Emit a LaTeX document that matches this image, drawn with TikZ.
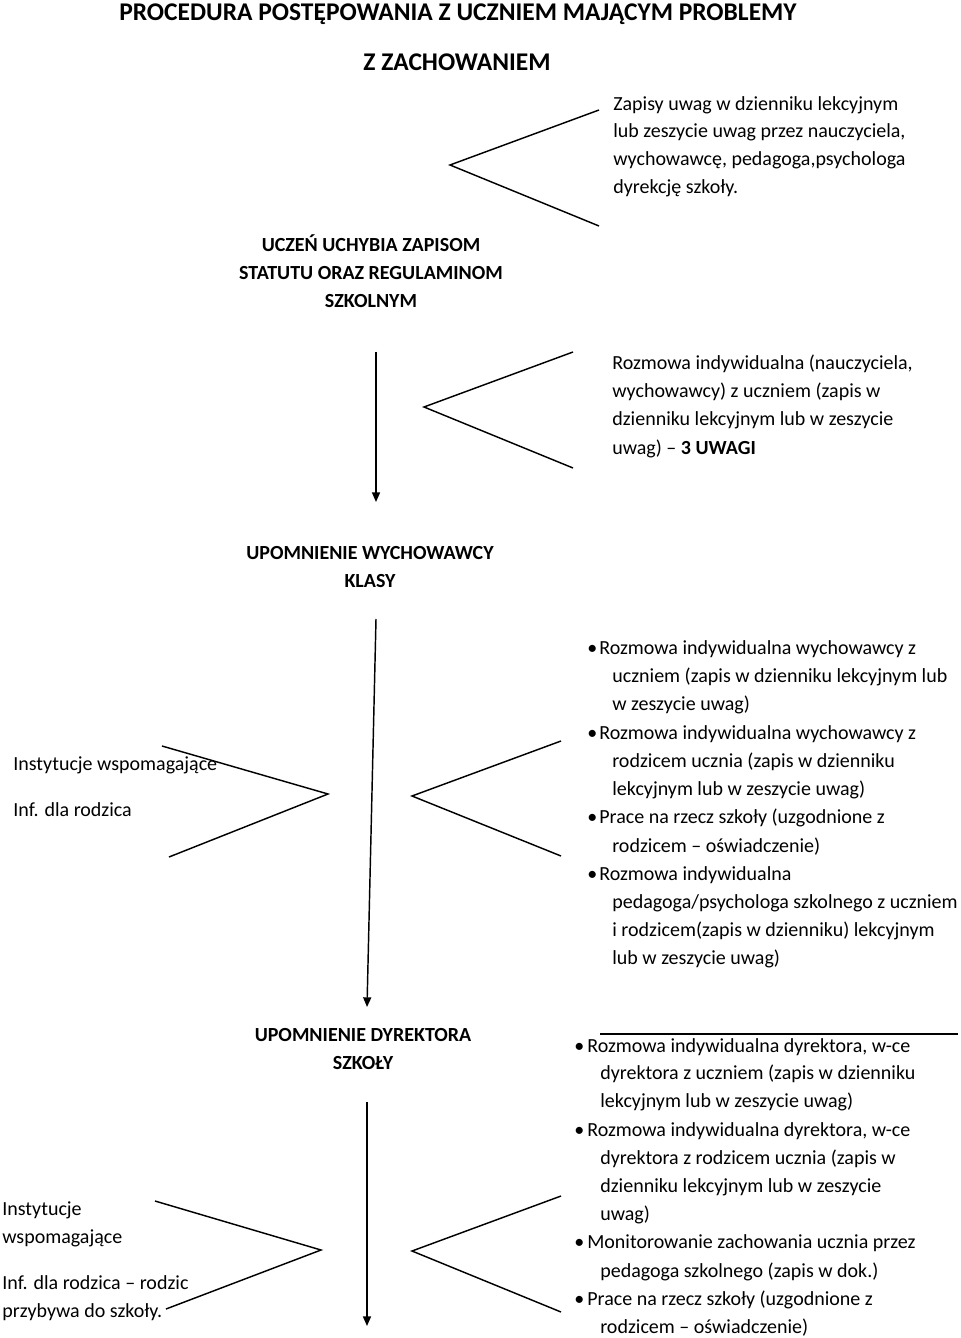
\documentclass[tikz,border=0pt]{standalone}
\usepackage{fontspec}
\setmainfont{Carlito}
\usetikzlibrary{arrows.meta}
\tikzset{
  txt/.style={anchor=west, inner sep=0pt, text height=0.75em, text depth=0.25em, yshift=-1.8pt, font=\fontsize{12.4}{14}\selectfont},
  ctr/.style={anchor=center, inner sep=0pt, text height=0.75em, text depth=0.25em, yshift=-1.6pt, font=\fontsize{12.4}{14}\selectfont},
  ctrb/.style={ctr, font=\fontsize{12.4}{14}\selectfont\bfseries},
  ttl/.style={ctr, font=\fontsize{15.8}{18}\selectfont\bfseries},
  ln/.style={line width=0.9pt, line join=miter},
  arr/.style={ln, -{Triangle[width=5pt,length=6pt]}}
}
\begin{document}
\begin{tikzpicture}[x=0.62pt, y=-0.62pt]
\useasboundingbox (0,0) rectangle (960,1338);
% titles
\node[ttl] (t1) at (458,14) {PROCEDURA POSTĘPOWANIA Z UCZNIEM MAJĄCYM PROBLEMY};
\node[ttl] (t2) at (457,64) {Z ZACHOWANIEM};
% top right block
\node[txt] (z1) at (613,104) {Zapisy uwag w dzienniku lekcyjnym};
\node[txt] (z2) at (613,131) {lub zeszycie uwag przez nauczyciela,};
\node[txt] (z3) at (613,159) {wychowawcę, pedagoga,psychologa};
\node[txt] (z4) at (613,187) {dyrekcję szkoły.};
\coordinate (c1a) at (599,110);
\coordinate (c1t) at (450,165);
\coordinate (c1b) at (599,226);
\draw[ln] (c1a) -- (c1t) -- (c1b);
% start
\node[ctrb] (u1) at (371,245) {UCZEŃ UCHYBIA ZAPISOM};
\node[ctrb] (u2) at (371,273) {STATUTU ORAZ REGULAMINOM};
\node[ctrb] (u3) at (371,301) {SZKOLNYM};
% block 2
\node[txt] (r1) at (612,363) {Rozmowa indywidualna (nauczyciela,};
\node[txt] (r2) at (612,391) {wychowawcy) z uczniem (zapis w};
\node[txt] (r3) at (612,419) {dzienniku lekcyjnym lub w zeszycie};
\node[txt] (r4) at (612,448) {uwag) – \textbf{3 UWAGI}};
\coordinate (c2a) at (573,352);
\coordinate (c2t) at (424,407);
\coordinate (c2b) at (573,468);
\draw[ln] (c2a) -- (c2t) -- (c2b);
\coordinate (a1s) at (376,352);
\coordinate (a1e) at (376,502);
\draw[arr] (a1s) -- (a1e);
% upomnienie wychowawcy
\node[ctrb] (w1) at (370,553) {UPOMNIENIE WYCHOWAWCY};
\node[ctrb] (w2) at (370,581) {KLASY};
\coordinate (a2s) at (376,619);
\coordinate (a2e) at (367,1007);
\draw[arr] (a2s) -- (a2e);
% left middle
\node[txt] (l1) at (13,764) {Instytucje wspomagające};
\node[txt] (l2) at (13,810) {Inf. dla rodzica};
\coordinate (c3a) at (162,746);
\coordinate (c3t) at (328,794);
\coordinate (c3b) at (169,857);
\draw[ln] (c3a) -- (c3t) -- (c3b);
% right middle chevron
\coordinate (c4a) at (561,741);
\coordinate (c4t) at (412,796);
\coordinate (c4b) at (561,856);
\draw[ln] (c4a) -- (c4t) -- (c4b);
% middle list
\node[txt] (m1b) at (587,648) {•};
\node[txt] (m1) at (599,648) {Rozmowa indywidualna wychowawcy z};
\node[txt] (m1x) at (612,676) {uczniem (zapis w dzienniku lekcyjnym lub};
\node[txt] (m1y) at (612,704) {w zeszycie uwag)};
\node[txt] (m2b) at (587,733) {•};
\node[txt] (m2) at (599,733) {Rozmowa indywidualna wychowawcy z};
\node[txt] (m2x) at (612,761) {rodzicem ucznia (zapis w dzienniku};
\node[txt] (m2y) at (612,789) {lekcyjnym lub w zeszycie uwag)};
\node[txt] (m3b) at (587,817) {•};
\node[txt] (m3) at (599,817) {Prace na rzecz szkoły (uzgodnione z};
\node[txt] (m3x) at (612,846) {rodzicem – oświadczenie)};
\node[txt] (m4b) at (587,874) {•};
\node[txt] (m4) at (599,874) {Rozmowa indywidualna};
\node[txt] (m4x) at (612,902) {pedagoga/psychologa szkolnego z uczniem};
\node[txt] (m4y) at (612,930) {i rodzicem(zapis w dzienniku) lekcyjnym};
\node[txt] (m4z) at (612,958) {lub w zeszycie uwag)};
% upomnienie dyrektora
\node[ctrb] (d1) at (363,1035) {UPOMNIENIE DYREKTORA};
\node[ctrb] (d2) at (363,1063) {SZKOŁY};
\coordinate (a3s) at (367,1102);
\coordinate (a3e) at (367,1326);
\draw[arr] (a3s) -- (a3e);
% bottom left
\node[txt] (b1) at (2,1209) {Instytucje};
\node[txt] (b2) at (2,1237) {wspomagające};
\node[txt] (b3) at (2,1283) {Inf. dla rodzica – rodzic};
\node[txt] (b4) at (2,1311) {przybywa do szkoły.};
\coordinate (c5a) at (155,1201);
\coordinate (c5t) at (321,1250);
\coordinate (c5b) at (166,1309);
\draw[ln] (c5a) -- (c5t) -- (c5b);
% bottom right chevron
\coordinate (c6a) at (561,1196);
\coordinate (c6t) at (412,1251);
\coordinate (c6b) at (561,1312);
\draw[ln] (c6a) -- (c6t) -- (c6b);
% bottom list
\coordinate (hl1) at (600,1034);
\coordinate (hl2) at (958,1034);
\draw[line width=0.7pt] (hl1) -- (hl2);
\node[txt] (n1b) at (574,1046) {•};
\node[txt] (n1) at (587,1046) {Rozmowa indywidualna dyrektora, w-ce};
\node[txt] (n1x) at (600,1073) {dyrektora z uczniem (zapis w dzienniku};
\node[txt] (n1y) at (600,1101) {lekcyjnym lub w zeszycie uwag)};
\node[txt] (n2b) at (574,1130) {•};
\node[txt] (n2) at (587,1130) {Rozmowa indywidualna dyrektora, w-ce};
\node[txt] (n2x) at (600,1158) {dyrektora z rodzicem ucznia (zapis w};
\node[txt] (n2y) at (600,1186) {dzienniku lekcyjnym lub w zeszycie};
\node[txt] (n2z) at (600,1214) {uwag)};
\node[txt] (n3b) at (574,1242) {•};
\node[txt] (n3) at (587,1242) {Monitorowanie zachowania ucznia przez};
\node[txt] (n3x) at (600,1271) {pedagoga szkolnego (zapis w dok.)};
\node[txt] (n4b) at (574,1299) {•};
\node[txt] (n4) at (587,1299) {Prace na rzecz szkoły (uzgodnione z};
\node[txt] (n4x) at (600,1327) {rodzicem – oświadczenie)};
\end{tikzpicture}
\end{document}
